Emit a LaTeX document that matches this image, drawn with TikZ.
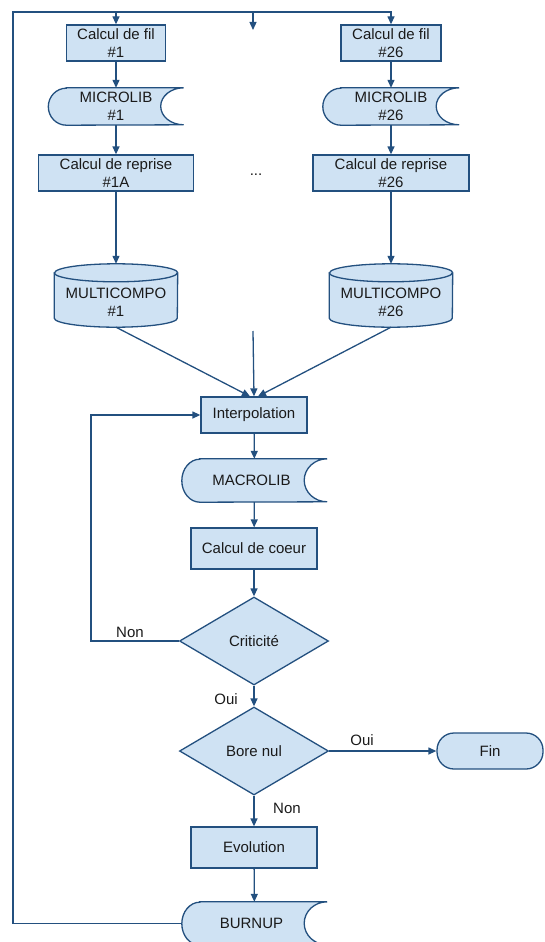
\documentclass[tikz,border=0pt]{standalone}
\usepackage{fontspec}
\setmainfont{Liberation Sans}
\usetikzlibrary{arrows.meta,shapes.geometric,backgrounds}
\definecolor{lc}{HTML}{23507F}
\definecolor{fc}{HTML}{CFE2F3}
\definecolor{tc}{HTML}{1A1A1A}
\newcommand{\sdshape}[2]{%
 \begin{pgfonlayer}{background}
 \filldraw[shapeline] ([xshift=18pt]#1.north west) -- (#1.north east)
   arc[start angle=90,end angle=270,x radius=23pt,y radius=#2pt] -- ([xshift=18pt]#1.south west)
   arc[start angle=270,end angle=90,x radius=18pt,y radius=#2pt] -- cycle;
 \end{pgfonlayer}}
\newcommand{\cylshape}[1]{%
 \begin{pgfonlayer}{background}
 \filldraw[shapeline] ([yshift=-9pt]#1.north west) -- ([yshift=9pt]#1.south west)
   arc[start angle=180,end angle=360,x radius=61.5pt,y radius=9pt] -- ([yshift=-9pt]#1.north east)
   arc[start angle=0,end angle=180,x radius=61.5pt,y radius=9pt] -- cycle;
 \draw[shapeline] ([yshift=-9pt]#1.north west) arc[start angle=180,end angle=360,x radius=61.5pt,y radius=9pt];
 \end{pgfonlayer}}
\tikzset{
  shapeline/.style={draw=lc,fill=fc,line width=1.3pt},
  txt/.style={font=\fontsize{15}{18}\selectfont,text=tc,align=center},
  procbox/.style={txt,draw=lc,fill=fc,line width=1.3pt,rectangle,inner sep=0pt},
  plain/.style={txt,inner sep=0pt},
  decision/.style={txt,draw=lc,fill=fc,line width=1.3pt,diamond,inner sep=0pt,minimum width=149pt,minimum height=88pt},
  conn/.style={draw=lc,line width=1.3pt},
  arr/.style={conn,-{Triangle[length=8pt,width=7pt]}},
  lbl/.style={font=\fontsize{15}{18}\selectfont,text=tc,inner sep=0pt}
}
\begin{document}
\begin{tikzpicture}[x=1pt,y=1pt]
\useasboundingbox (0,0) rectangle (544,-942);
% column 1
\node[procbox,minimum width=99pt,minimum height=36pt] (fil1) at (116,-43) {Calcul de fil\\\#1};
\node[plain,minimum width=135pt,minimum height=37pt] (mic1) at (116,-106.5) {MICROLIB\\\#1};
\sdshape{mic1}{18.5}
\node[procbox,minimum width=155pt,minimum height=36pt] (rep1) at (116,-173) {Calcul de reprise\\\#1A};
\node[plain,minimum width=123pt,minimum height=63pt] (mc1) at (116,-295.5) {\raisebox{-7pt}[\height][\depth]{\parbox{120pt}{\centering MULTICOMPO\\\#1}}};
\cylshape{mc1}
% column 2
\node[procbox,minimum width=100pt,minimum height=36pt] (fil26) at (391,-43) {Calcul de fil\\\#26};
\node[plain,minimum width=136pt,minimum height=37pt] (mic26) at (391,-106.5) {MICROLIB\\\#26};
\sdshape{mic26}{18.5}
\node[procbox,minimum width=156pt,minimum height=36pt] (rep26) at (391,-173) {Calcul de reprise\\\#26};
\node[plain,minimum width=123pt,minimum height=63pt] (mc26) at (391,-295.5) {\raisebox{-7pt}[\height][\depth]{\parbox{120pt}{\centering MULTICOMPO\\\#26}}};
\cylshape{mc26}
\node[lbl] (dots) at (256,-175) {...};
% central column
\node[procbox,minimum width=106pt,minimum height=36pt] (interp) at (254,-415) {Interpolation};
\node[plain,minimum width=145pt,minimum height=43pt] (macro) at (254.5,-480.5) {\hspace*{-6pt}MACROLIB};
\sdshape{macro}{21.5}
\node[procbox,minimum width=126pt,minimum height=41pt] (coeur) at (254,-548.5) {Calcul de coeur};
\node[decision] (crit) at (254,-641) {Criticité};
\node[decision] (bore) at (254,-751) {Bore nul};
\node[procbox,rounded corners=17pt,minimum width=106pt,minimum height=36pt] (fin) at (490,-751) {Fin};
\node[procbox,minimum width=126pt,minimum height=41pt] (evol) at (254,-847.5) {Evolution};
\node[plain,minimum width=145pt,minimum height=43pt] (burn) at (254.5,-923.5) {\hspace*{-6pt}BURNUP};
\sdshape{burn}{21.5}
% coordinates
\coordinate (tl) at (13,-12);
\coordinate (j1) at (116,-12);
\coordinate (jm) at (253,-12);
\coordinate (jmend) at (253,-30);
\coordinate (mid) at (253,-331);
\coordinate (lp) at (91,-641);
% connectors
\draw[arr] (burn.west) -| (tl) -| (fil26.north);
\draw[arr] (j1) -- (fil1.north);
\draw[arr] (jm) -- (jmend);
\draw[arr] (fil1) -- (mic1);
\draw[arr] (mic1) -- (rep1);
\draw[arr] (rep1) -- (mc1.north);
\draw[arr] (fil26) -- (mic26);
\draw[arr] (mic26) -- (rep26);
\draw[arr] (rep26) -- (mc26.north);
\draw[arr] (mc1.south) -- ([xshift=-4pt]interp.north);
\draw[arr] (mc26.south) -- ([xshift=4pt]interp.north);
\draw[arr] (mid) -- (interp.north);
\draw[arr] (interp) -- (macro);
\draw[arr] (macro) -- (coeur);
\draw[arr] (coeur) -- (crit);
\draw[arr] (crit.west) -- (lp) |- (interp.west);
\draw[arr] (crit) -- (bore);
\draw[arr] (bore.east) -- (fin.west);
\draw[arr] (bore) -- (evol);
\draw[arr] (evol) -- (burn);
% labels
\node[lbl] at (130,-632) {Non};
\node[lbl] at (226,-699) {Oui};
\node[lbl] at (362,-740) {Oui};
\node[lbl] at (287,-808) {Non};
\end{tikzpicture}
\end{document}
